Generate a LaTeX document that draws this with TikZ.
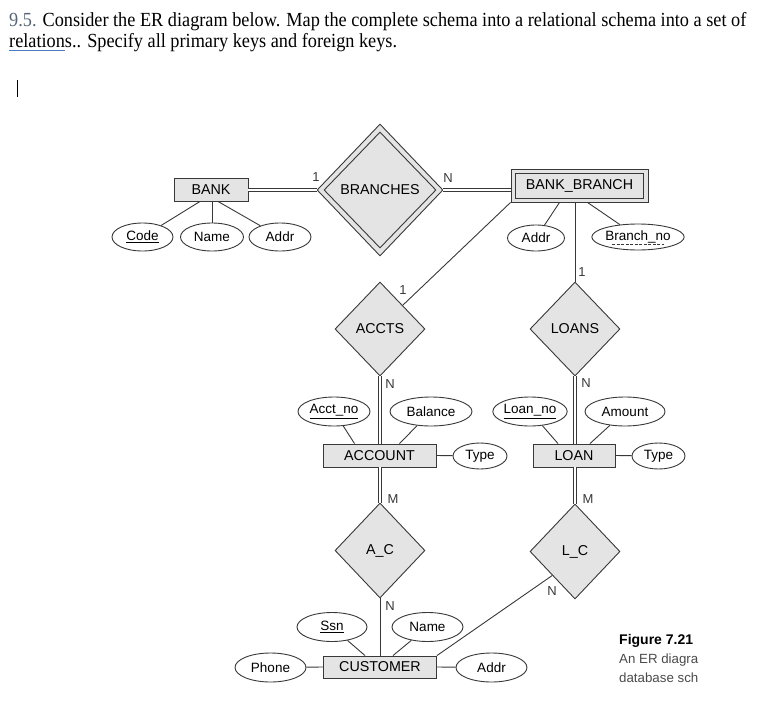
\documentclass[tikz,border=0pt]{standalone}
\usepackage{fontspec}
\usepackage{graphicx}
\setmainfont{Liberation Serif}
\newfontfamily\arial{Liberation Sans}
\usetikzlibrary{shapes.geometric,calc}
\definecolor{linec}{HTML}{383838}
\definecolor{boxfill}{HTML}{E4E4E4}
\definecolor{numc}{HTML}{56657A}
\definecolor{capc}{HTML}{4A4A4A}
\definecolor{spellc}{HTML}{4A7BC4}
\begin{document}
\begin{tikzpicture}[x=1pt,y=-1pt,
  ent/.style={draw=linec, fill=boxfill, line width=0.9pt, minimum height=23pt, inner sep=0pt, font=\arial\fontsize{14.3}{14}\selectfont},
  attr/.style={draw=linec, ellipse, fill=white, line width=0.9pt, minimum height=28pt, inner sep=0pt, font=\arial\fontsize{13.5}{14}\selectfont},
  rel/.style={draw=linec, diamond, fill=boxfill, line width=0.9pt, minimum width=90pt, minimum height=94pt, inner sep=0pt, font=\arial\fontsize{14.3}{14}\selectfont},
  conn/.style={draw=linec, line width=0.9pt},
  dbl/.style={draw=linec, line width=0.8pt, double=white, double distance=2.2pt},
  card/.style={font=\arial\fontsize{13}{13}\selectfont, inner sep=0pt, text=linec},
  title/.style={anchor=base west, inner sep=0pt, font=\fontsize{20}{22}\selectfont}
]
\useasboundingbox (0,0) rectangle (758,704);
% title
\node[title] (t1) at (9,26)
  {\scalebox{0.913}[1]{\textcolor{numc}{9.5.} Consider the ER diagram below. Map the complete schema into a relational schema into a set of}};
\node[title] (t2) at (9,47)
  {\scalebox{0.913}[1]{relations.. Specify all primary keys and foreign keys.}};
\draw[spellc, line width=1pt] (9,50) -- (65,50);
\draw[black, line width=0.9pt] (17,80) -- (17,97);

% entities
\node[ent, minimum width=74pt] (BANK) at (211,189.5) {BANK};
\node[ent, minimum width=137pt, minimum height=33pt] (BB) at (579.5,185.5) {};
\node[ent, minimum width=128pt, minimum height=25pt] (BBin) at (579.5,185.5) {BANK\_BRANCH};
\node[ent, minimum width=113pt] (ACCOUNT) at (379.5,455.5) {ACCOUNT};
\node[ent, minimum width=82pt] (LOAN) at (574,455.5) {LOAN};
\node[ent, minimum width=113pt, minimum height=22pt] (CUSTOMER) at (380,667) {CUSTOMER};

% relationships
\node[rel, minimum width=126pt, minimum height=132pt] (BRANCHES) at (380,190) {};
\node[rel, minimum width=112pt, minimum height=116pt] (BRANCHESin) at (380,190) {BRANCHES};
\node[rel] (ACCTS) at (380,329) {ACCTS};
\node[rel] (LOANS) at (575,329) {LOANS};
\node[rel, minimum height=95pt] (AC) at (380,550.5) {A\_C};
\node[rel, minimum height=95pt] (LC) at (575,551.5) {L\_C};

% attributes
\node[attr, minimum width=61pt] (Code) at (142.5,237) {\underline{Code}};
\node[attr, minimum width=63pt] (BName) at (212,237) {Name};
\node[attr, minimum width=62pt] (BAddr) at (280,237) {Addr};
\node[attr, minimum width=57pt, minimum height=26pt] (BBAddr) at (536,238) {Addr};
\node[attr, minimum width=85pt, minimum height=26pt] (BranchNo) at (638,237) {Branch\_no};
\draw[linec, line width=0.8pt, dash pattern=on 3pt off 1.5pt] ($(BranchNo.center)+(-26,7)$) -- ($(BranchNo.center)+(26,7)$);
\node[attr, minimum width=72pt, minimum height=29pt] (AcctNo) at (334,411.5) {\underline{Acct\_no}};
\node[attr, minimum width=82pt, minimum height=29pt] (Balance) at (431,411.5) {Balance};
\node[attr, minimum width=54pt, minimum height=26pt] (AType) at (480,456) {Type};
\node[attr, minimum width=70pt, minimum height=29pt] (LoanNo) at (530,411.5) {\underline{Loan\_no}};
\node[attr, minimum width=80pt, minimum height=29pt] (Amount) at (625,411.5) {Amount};
\node[attr, minimum width=53pt, minimum height=26pt] (LType) at (658.5,456) {Type};
\node[attr, minimum width=70pt, minimum height=29pt] (Ssn) at (332,627) {\underline{Ssn}};
\node[attr, minimum width=71pt, minimum height=29pt] (CName) at (427.5,627) {Name};
\node[attr, minimum width=71pt, minimum height=29pt] (Phone) at (270.5,667.5) {Phone};
\node[attr, minimum width=71pt, minimum height=29pt] (CAddr) at (491.5,667.5) {Addr};

% attribute links
\draw[conn] ([xshift=-11pt]BANK.south) -- (Code);
\draw[conn] (BANK.south -| BName) -- (BName);
\draw[conn] ([xshift=7pt]BANK.south) -- (BAddr);
\draw[conn] ([xshift=-20pt]BB.south) -- (BBAddr);
\draw[conn] ([xshift=8pt]BB.south) -- (BranchNo);
\draw[conn] ([xshift=-25pt]ACCOUNT.north) -- (AcctNo);
\draw[conn] ([xshift=20pt]ACCOUNT.north) -- (Balance);
\draw[conn] (ACCOUNT.east) -- (AType);
\draw[conn] ([xshift=-16pt]LOAN.north) -- (LoanNo);
\draw[conn] ([xshift=16pt]LOAN.north) -- (Amount);
\draw[conn] (LOAN.east) -- (LType);
\draw[conn] ([xshift=-15pt]CUSTOMER.north) -- (Ssn);
\draw[conn] ([xshift=13pt]CUSTOMER.north) -- (CName);
\draw[conn] (Phone) -- (CUSTOMER.west);
\draw[conn] (CUSTOMER.east) -- (CAddr);

% relationship links
\draw[dbl] (BANK.east |- BRANCHES.west) -- (BRANCHES.west);
\draw[dbl] (BRANCHES.east) -- (BB.west |- BRANCHES.east);
\draw[conn] (BB.south west) -- (ACCTS.north east);
\draw[conn] (LOANS.north |- BB.south) -- (LOANS.north);
\draw[dbl] (ACCTS.south) -- (ACCTS.south |- ACCOUNT.north);
\draw[dbl] (LOANS.south) -- (LOANS.south |- LOAN.north);
\draw[dbl] (AC.north |- ACCOUNT.south) -- (AC.north);
\draw[dbl] (LC.north |- LOAN.south) -- (LC.north);
\draw[conn] (AC.south) -- (AC.south |- CUSTOMER.north);
\draw[conn] (LC.south west) -- (CUSTOMER.north east);

% cardinalities
\node[card] (c1) at (316,177) {1};
\node[card] (c2) at (448,178) {N};
\node[card] (c3) at (403,290) {1};
\node[card] (c4) at (582,272) {1};
\node[card] (c5) at (390,384) {N};
\node[card] (c6) at (586,383) {N};
\node[card] (c7) at (393,499) {M};
\node[card] (c8) at (588,499) {M};
\node[card] (c9) at (390,606) {N};
\node[card] (c10) at (552,591) {N};

% caption
\node[anchor=base west, inner sep=0pt, font=\arial\bfseries\fontsize{14}{14}\selectfont] (f1) at (619,644) {Figure 7.21};
\node[anchor=base west, inner sep=0pt, font=\arial\fontsize{13.3}{14}\selectfont, text=capc] (f2) at (619,663) {An ER diagra};
\node[anchor=base west, inner sep=0pt, font=\arial\fontsize{13.3}{14}\selectfont, text=capc] (f3) at (619,682) {database sch};
\end{tikzpicture}
\end{document}
